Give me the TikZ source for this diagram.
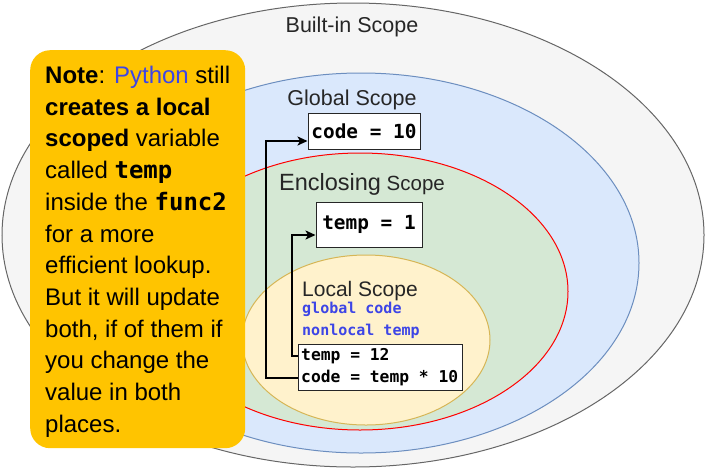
\documentclass[tikz,border=0pt]{standalone}
\usepackage{fontspec}
\setmainfont{Liberation Sans}
\setmonofont{DejaVu Sans Mono}
\usetikzlibrary{shapes.geometric,arrows.meta}
\definecolor{outerfill}{HTML}{F5F5F5}
\definecolor{outerdraw}{HTML}{666666}
\definecolor{globfill}{HTML}{DAE8FC}
\definecolor{globdraw}{HTML}{6C8EBF}
\definecolor{encfill}{HTML}{D5E8D4}
\definecolor{encdraw}{HTML}{FF0000}
\definecolor{locfill}{HTML}{FFF2CC}
\definecolor{locdraw}{HTML}{D6B656}
\definecolor{notefill}{HTML}{FFC400}
\definecolor{kwblue}{HTML}{3D45E6}
\tikzset{
  scopeell/.style={ellipse, inner sep=0pt, line width=1pt},
  scopelabel/.style={inner sep=0pt, anchor=base, font=\fontsize{21.5}{25}\selectfont, text=black!85},
  codebox/.style={draw=black!85, fill=white, line width=1pt, inner sep=0pt,
    font=\fontsize{19.4}{23}\selectfont\ttfamily\bfseries},
  codeline/.style={inner sep=0pt, anchor=west, font=\fontsize{16.3}{20}\selectfont\ttfamily\bfseries},
  kwline/.style={inner sep=0pt, anchor=west, text=kwblue, font=\fontsize{15}{18}\selectfont\ttfamily\bfseries},
  conn/.style={draw=black, line width=2pt, -{Stealth[length=10pt,width=9pt,inset=2.5pt]}},
  notebox/.style={fill=notefill, rounded corners=20pt, inner sep=0pt, anchor=north west,
    minimum width=215pt, minimum height=398pt},
  notetext/.style={inner sep=0pt, anchor=north west, align=left,
    font=\fontsize{24}{31.7}\selectfont}
}
\begin{document}
\begin{tikzpicture}[x=1pt,y=-1pt]
\useasboundingbox (0,0) rectangle (706,469);
% scopes
\node[scopeell, fill=outerfill, draw=outerdraw, minimum width=702pt, minimum height=464pt] (builtin) at (353,235) {};
\node[scopeell, fill=globfill, draw=globdraw, minimum width=556pt, minimum height=380pt] (global) at (361,263) {};
\node[scopeell, fill=encfill, draw=encdraw, minimum width=416pt, minimum height=277pt] (enclosing) at (360,291.5) {};
\node[scopeell, fill=locfill, draw=locdraw, minimum width=248pt, minimum height=170pt] (local) at (366,340) {};
% labels
\node[scopelabel] (tbuiltin) at (352,32.3) {Built-in Scope};
\node[scopelabel] (tglobal) at (352,105.5) {Global Scope};
\node[scopelabel, font=\fontsize{20.5}{25}\selectfont] (tenclosing) at (362,190.7) {{\fontsize{23.5}{25}\selectfont Enclosing} Scope};
\node[scopelabel, anchor=base west, font=\fontsize{21}{25}\selectfont] (tlocal) at (302,296) {Local Scope};
\node[kwline] (kglobal) at (302,309) {global code};
\node[kwline] (knonlocal) at (302,331) {nonlocal temp};
% code boxes
\node[codebox, minimum width=112pt, minimum height=36pt] (code10) at (364,131) {code = 10};
\node[codebox, minimum width=106pt, minimum height=45pt] (temp1) at (369,224.5) {temp = 1};
\node[codebox, minimum width=164pt, minimum height=46pt] (localbox) at (380,367) {};
\node[codeline] (ltemp) at (301,356) {temp = 12};
\node[codeline] (lcode) at (301,378) {code = temp * 10};
% connectors
\coordinate (c1) at (266,141);
\coordinate (c2) at (292,235);
\draw[conn] (localbox.west |- lcode) -| (c1) -- (code10.west |- c1);
\draw[conn] (localbox.west |- ltemp) -| (c2) -- (temp1.west |- c2);
% note
\node[notebox] (note) at (30,50) {};
\node[notetext] (ntext) at (45,66) {\textbf{Note}: \textcolor{kwblue}{Python} still\\
\textbf{creates a local}\\
\textbf{scoped} variable\\
called \texttt{\textbf{temp}}\\
inside the \texttt{\textbf{func2}}\\
for a more\\
efficient lookup.\\
But it will update\\
both, if of them if\\
you change the\\
value in both\\
places.};
\end{tikzpicture}
\end{document}
